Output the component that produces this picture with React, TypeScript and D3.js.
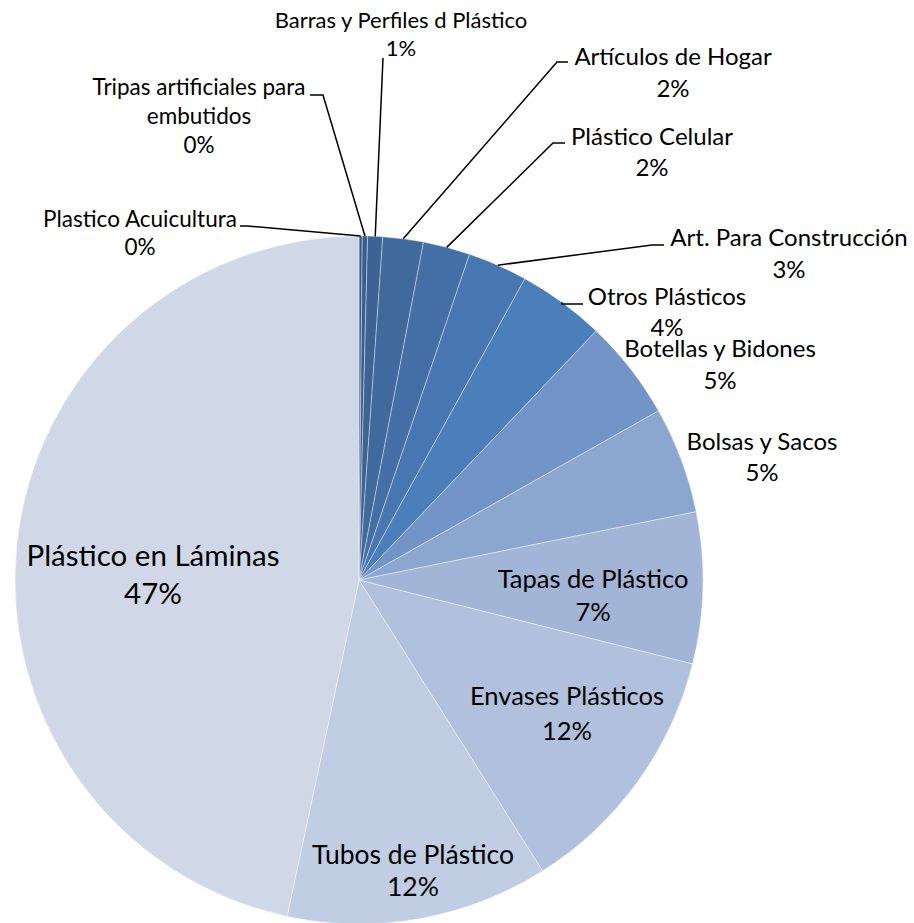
import { useEffect, useRef } from "react";
import * as d3 from "d3";

// Categories, clockwise from 12 o'clock
const categories = [
  "Plastico Acuicultura",
  "Tripas artificiales para embutidos",
  "Barras y Perfiles d Plástico",
  "Artículos de Hogar",
  "Plástico Celular",
  "Art. Para Construcción",
  "Otros Plásticos",
  "Botellas y Bidones",
  "Bolsas y Sacos",
  "Tapas de Plástico",
  "Envases Plásticos",
  "Tubos de Plástico",
  "Plástico en Láminas",
];

// share of production (%)
const values = [0.15, 0.25, 0.7, 1.9, 2.2, 2.8, 4.1, 4.7, 5.0, 7.1, 12.1, 12.3, 46.6];

// label text lines (name split where the chart wraps it)
const labelLines = [
  ["Plastico Acuicultura"],
  ["Tripas artificiales para", "embutidos"],
  ["Barras y Perfiles d Plástico"],
  ["Artículos de Hogar"],
  ["Plástico Celular"],
  ["Art. Para Construcción"],
  ["Otros Plásticos"],
  ["Botellas y Bidones"],
  ["Bolsas y Sacos"],
  ["Tapas de Plástico"],
  ["Envases Plásticos"],
  ["Tubos de Plástico"],
  ["Plástico en Láminas"],
];

const colors = [
  "#365a87", "#395e8d", "#3c6394", "#40699c", "#446fa6", "#4876b1", "#4c7eba",
  "#7394c6", "#8ba6cf", "#a2b5d6", "#b1c1dd", "#c1cde2", "#d0d8e8",
];

export default function App() {
  const svgRef = useRef<SVGSVGElement | null>(null);

  useEffect(() => {
    if (!svgRef.current) return;
    const svg = d3.select(svgRef.current);
    svg.selectAll("*").remove();

    const cx = 359;
    const cy = 580;
    const r = 344;
    const total = d3.sum(values);

    // manual label placement (relative to pie centre): [x centre, first baseline, line gap, font size]
    const labelPos: [number, number, number, number][] = [
      [-219, -353, 28, 22.5],
      [-160, -485, 29, 22.5],
      [42, -552, 28, 22],
      [314, -515, 32, 24],
      [293, -435, 31, 24],
      [430, -334, 32, 24],
      [308, -275, 31, 24],
      [361, -223, 32, 24],
      [403, -130, 31, 24],
      [234, 8, 33, 25.5],
      [208, 125, 35, 25.5],
      [54, 284, 32, 26.5],
      [-206, -14, 38, 29.5],
    ];
    // leader lines: [elbow x, elbow y, end x] relative to centre, or null
    const leaders: ([number, number, number] | null)[] = [
      [-112, -354, -119],
      [-36, -485, -49],
      [24, -522, 24],
      [198, -518, 209],
      [194, -437, 206],
      [293, -335, 305],
      [203, -276, 224],
      null,
      null,
      null,
      null,
      null,
      null,
    ];

    const g = svg.append("g").attr("transform", `translate(${cx},${cy})`);

    const pie = d3.pie<number>().sort(null).value(d => d);
    const arcs = pie(values);
    const arc = d3.arc<d3.PieArcDatum<number>>().innerRadius(0).outerRadius(r);
    const edge = d3.arc<d3.PieArcDatum<number>>().innerRadius(r).outerRadius(r);

    g.selectAll("path.slice")
      .data(arcs)
      .enter()
      .append("path")
      .attr("class", "slice")
      .attr("d", arc)
      .attr("fill", (d, i) => colors[i])
      .attr("stroke", "#ffffff")
      .attr("stroke-opacity", 0.5)
      .attr("stroke-width", 0.75);

    // leader lines
    arcs.forEach((d, i) => {
      const l = leaders[i];
      if (!l) return;
      const [px, py] = edge.centroid(d);
      g.append("path")
        .attr("d", d3.line()([[px, py], [l[0], l[1]], [l[2], l[1]]]))
        .attr("fill", "none")
        .attr("stroke", "#000")
        .attr("stroke-width", 1.5);
    });

    // labels
    arcs.forEach((d, i) => {
      const [lx, ly, gap, fs] = labelPos[i];
      const pct = Math.round((d.data / total) * 100) + "%";
      const lines = [...labelLines[i], pct];
      const t = g.append("text")
        .attr("text-anchor", "middle")
        .attr("font-family", "Lato, 'Open Sans', sans-serif")
        .attr("font-size", fs)
        .attr("fill", "#000");
      lines.forEach((s, k) => {
        t.append("tspan").attr("x", lx).attr("y", ly + k * gap).text(s);
      });
    });
  }, []);

  return (
    <svg
      ref={svgRef}
      width={914}
      height={923}
      style={{ position: "absolute", left: 0, top: 0, background: "#fff" }}
    />
  );
}
